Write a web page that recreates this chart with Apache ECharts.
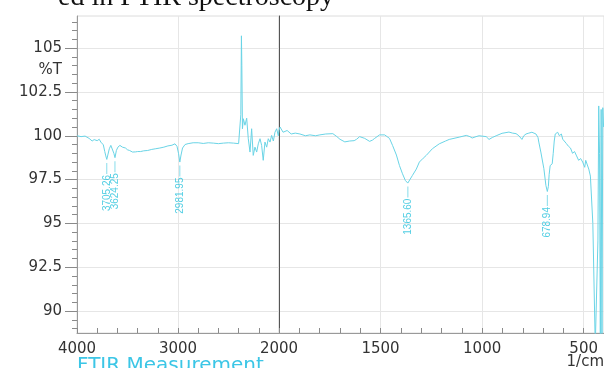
<!DOCTYPE html>
<html><head><meta charset="utf-8">
<script src="https://cdn.jsdelivr.net/npm/echarts@6/dist/echarts.min.js"></script>
<style>html,body{margin:0;padding:0;background:#fff;overflow:hidden}#c{width:604px;height:368px}</style>
</head><body><div id="c"></div>
<script>
// ---- data ----
const wavenumber = [
  4000,3960,3920,3880,3850,3830,3800,3780,3760,3740,3725,3715,3705,3695,3680,3665,3650,3635,3624,3610,
  3595,3575,3550,3520,3500,3480,3450,3420,3400,3370,3340,3300,3260,3220,3180,3140,3100,3060,3030,3010,
  2995,2982,2970,2955,2930,2900,2850,2800,2750,2700,2650,2600,2550,2500,2450,2400,2385,2378,2372,2368,
  2362,2353,2337,2320,2304,2287,2271,2255,2238,2221,2205,2188,2172,2156,2139,2122,2106,2089,2073,2056,
  2040,2023,2007,2000,1995,1980,1960,1940,1920,1897,1870,1848,1820,1799,1770,1735,1715,1700,1676,1652,
  1630,1618,1603,1578,1554,1540,1529,1505,1480,1456,1441,1422,1407,1392,1378,1366,1358,1343,1324,1309,
  1290,1275,1245,1211,1180,1162,1113,1078,1060,1049,1030,1015,980,966,950,931,902,868,850,833,
  819,804,795,784,770,755,735,725,721,711,696,686,679,674,670,665,660,655,650,645,
  640,635,628,620,610,603,595,585,575,565,555,545,535,525,515,505,495,490,484,475,
  467,455,443,436,430,426,422,418,414,410,406,402
];
const transmittance = [
  100.0,99.95,99.98,99.85,99.7,99.78,99.72,99.8,99.6,99.5,99.1,98.85,98.65,98.9,99.26,99.45,99.4,99.0,98.75,99.16,
  99.35,99.45,99.35,99.3,99.2,99.16,99.07,99.08,99.1,99.1,99.14,99.16,99.22,99.26,99.3,99.35,99.42,99.46,99.54,99.4,
  99.0,98.5,98.9,99.3,99.5,99.55,99.6,99.6,99.56,99.6,99.58,99.55,99.58,99.6,99.58,99.55,99.6,101.2,105.7,104.0,
  100.4,100.97,100.6,101.0,99.83,99.07,100.4,98.88,99.35,99.07,99.54,99.83,99.45,98.6,99.64,99.35,99.83,99.64,100.02,99.7,
  100.2,100.4,100.0,100.3,100.5,100.2,100.3,100.1,100.15,100.1,100.0,100.05,100.0,100.05,100.1,100.12,99.95,99.8,99.65,99.7,
  99.72,99.8,99.95,99.85,99.68,99.75,99.85,100.05,100.05,99.85,99.45,98.9,98.3,97.83,97.45,97.3,97.38,97.74,98.1,98.5,
  98.72,98.88,99.26,99.54,99.7,99.79,99.92,100.02,99.95,99.87,99.95,100.0,99.95,99.79,99.9,100.0,100.14,100.21,100.15,100.12,
  100.0,99.79,100.0,100.1,100.15,100.2,100.1,99.9,99.64,99.07,98.12,97.16,96.82,97.1,97.8,98.3,98.2,98.4,99.0,99.7,
  100.1,100.2,100.2,100.0,100.1,99.8,99.75,99.55,99.4,99.3,99.0,99.1,98.85,98.6,98.7,98.5,98.2,98.6,98.5,98.1,
  97.7,95.0,88.0,88.0,94.0,101.7,99.0,88.0,101.5,88.0,101.6,100.5
];
const peakWavenumber = [3705.26, 3624.25, 2981.95, 1365.60, 678.94];
const peakTransmittance = [98.65, 98.75, 98.5, 97.3, 96.82];

const yMajorTicks = [90, 92.5, 95, 97.5, 100, 102.5, 105];
const yMinorTicks = [89,89.5,90,90.5,91,91.5,92,92.5,93,93.5,94,94.5,95,95.5,96,96.5,97,97.5,98,98.5,99,99.5,100,
  100.5,101,101.5,102,102.5,103,103.5,104,104.5,105,105.5,106,106.5];
const yUnitValue = 103.75;
const yUnitText = '%T';
const xLeftMajor = [4000, 3000, 2000];
const xLeftMinor = [2000,2200,2400,2600,2800,3000,3200,3400,3600,3800,4000];
const xRightMajor = [2000, 1500, 1000, 500];
const xRightLabels = [1500, 1000, 500];
const xRightMinor = [400,500,600,700,800,900,1000,1100,1200,1300,1400,1500,1600,1700,1800,1900,2000];
const xUnitText = '1/cm';
const footerText = 'FTIR Measurement';
const captionText = 'ed in FTIR spectroscopy';

// ---- chart ----
const FONT = 'DejaVu Sans';
const LINE = '#6ad4e6';
const LABEL = '#27c2dc';
const Y_MIN = 88.75, Y_MAX = 106.83;

const pts = wavenumber.map((w, i) => [w, transmittance[i]]);
const leftPts = pts.filter(p => p[0] >= 2000);
const rightPts = pts.filter(p => p[0] <= 2000);
const peaks = peakWavenumber.map((w, i) => [w, peakTransmittance[i]]);

function xMajor(grid, min, max, ticks, labels, showLine) {
  return {
    type: 'value', gridIndex: grid, min, max, inverse: true, position: 'bottom',
    axisLine: { show: showLine, onZero: false, lineStyle: { color: '#9a9a9a', width: 1 } },
    axisTick: { show: false, customValues: ticks },
    axisLabel: { customValues: labels, margin: 9, color: '#333', fontFamily: FONT, fontSize: 15,
      formatter: v => String(v) },
    splitLine: { show: true, lineStyle: { color: '#e6e6e6', width: 1 } }
  };
}
function xMinor(grid, min, max, ticks) {
  return {
    type: 'value', gridIndex: grid, min, max, inverse: true, position: 'bottom',
    axisLine: { show: false, onZero: false },
    axisTick: { show: true, inside: true, length: 5, customValues: ticks, lineStyle: { color: '#8a8a8a' } },
    axisLabel: { show: false }, splitLine: { show: false }
  };
}

const option = {
  backgroundColor: '#fff',
  animation: false,
  grid: [
    { left: 77, top: 16, width: 202, height: 317, show: true, borderColor: '#dcdcdc', borderWidth: 1 },
    { left: 279, top: 16, width: 326, height: 317, show: true, borderColor: '#dcdcdc', borderWidth: 1 }
  ],
  xAxis: [
    xMajor(0, 2000, 4000, xLeftMajor, xLeftMajor, true),
    xMinor(0, 2000, 4000, xLeftMinor),
    xMajor(1, 400, 2000, xRightMajor, xRightLabels, true),
    xMinor(1, 400, 2000, xRightMinor)
  ],
  yAxis: [
    { type: 'value', gridIndex: 0, min: Y_MIN, max: Y_MAX, position: 'left',
      axisLine: { show: true, onZero: false, lineStyle: { color: '#9a9a9a' } },
      axisTick: { show: true, length: 12, customValues: yMajorTicks, lineStyle: { color: '#8a8a8a' } },
      axisLabel: { customValues: yMajorTicks.concat([yUnitValue]), margin: 15, color: '#333',
        fontFamily: FONT, fontSize: 15, formatter: v => (v === yUnitValue ? yUnitText : String(v)) },
      splitLine: { show: true, lineStyle: { color: '#e6e6e6' } } },
    { type: 'value', gridIndex: 0, min: Y_MIN, max: Y_MAX, position: 'left',
      axisLine: { show: false, onZero: false },
      axisTick: { show: true, length: 5, customValues: yMinorTicks, lineStyle: { color: '#8a8a8a' } },
      axisLabel: { show: false }, splitLine: { show: false } },
    { type: 'value', gridIndex: 1, min: Y_MIN, max: Y_MAX, position: 'left',
      axisLine: { show: true, onZero: false, lineStyle: { color: '#555', width: 1 } },
      axisTick: { show: false, customValues: yMajorTicks },
      axisLabel: { show: false },
      splitLine: { show: true, lineStyle: { color: '#e6e6e6' } } }
  ],
  graphic: [
    { type: 'text', left: 58, top: -16, style: { text: captionText, font: '28px "Liberation Serif"', fill: '#111' } },
    { type: 'text', left: 77, top: 356, style: { text: footerText, font: '20px "DejaVu Sans"', fill: '#3cc6e6' } },
    { type: 'text', right: 0, top: 355, style: { text: xUnitText, font: '15px "DejaVu Sans"', fill: '#333' } }
  ],
  series: [
    { type: 'line', xAxisIndex: 0, yAxisIndex: 0, data: leftPts, showSymbol: false, symbol: 'none',
      lineStyle: { color: LINE, width: 1 }, clip: true, z: 3 },
    { type: 'line', xAxisIndex: 2, yAxisIndex: 2, data: rightPts, showSymbol: false, symbol: 'none',
      lineStyle: { color: LINE, width: 1 }, clip: true, z: 3 },
    { type: 'scatter', xAxisIndex: 0, yAxisIndex: 0, data: peaks.filter(p => p[0] > 2000),
      symbol: 'rect', symbolSize: [1, 11], symbolOffset: [0, 9], itemStyle: { color: LINE }, z: 4,
      label: { show: true, position: 'bottom', distance: 1, rotate: 90, align: 'right', verticalAlign: 'middle',
        color: LABEL, fontFamily: 'Liberation Sans', fontSize: 10, formatter: p => p.value[0].toFixed(2) } },
    { type: 'scatter', xAxisIndex: 2, yAxisIndex: 2, data: peaks.filter(p => p[0] < 2000),
      symbol: 'rect', symbolSize: [1, 11], symbolOffset: [0, 9], itemStyle: { color: LINE }, z: 4,
      label: { show: true, position: 'bottom', distance: 1, rotate: 90, align: 'right', verticalAlign: 'middle',
        color: LABEL, fontFamily: 'Liberation Sans', fontSize: 10, formatter: p => p.value[0].toFixed(2) } }
  ]
};
echarts.init(document.getElementById('c'), null, { renderer: 'canvas' }).setOption(option);
</script>
</body></html>
